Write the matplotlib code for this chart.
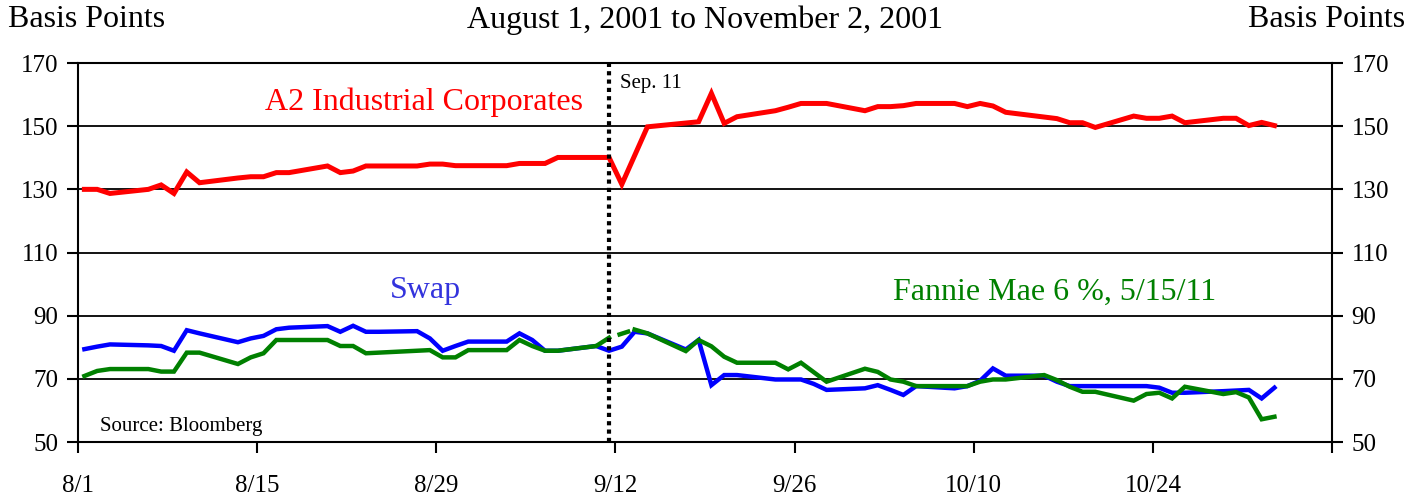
import matplotlib as mpl

mpl.rcParams['font.family'] = 'Liberation Serif'
mpl.rcParams['axes.linewidth'] = 1.5

import matplotlib.pyplot as plt
import numpy as np
import pandas as pd

# business days, 8/1/2001 - 11/2/2001 (holidays kept as carried values)
days = pd.bdate_range('2001-08-01', '2001-11-02')

# A2 Industrial Corporates (bp)
corp = [130, 130, 128.7, 130, 131.4, 128.7, 135.5, 132.1, 133.6, 134, 134, 135.3, 135.3,
        137.4, 135.3, 135.8, 137.4, 137.4, 137.4, 138, 138, 137.5, 137.5,
        137.5, 138.2, 138.2, 138.2, 140.1, 140.1, 140.1, 131.6, 140.7, 149.8, 151.0, 151.4,
        160.4, 150.9, 153, 154.9, 156, 157.2, 157.2, 157.2,
        154.9, 156.2, 156.2, 156.5, 157.2, 157.2, 156.2, 157.2, 156.4, 154.4, 152.9, 152.4,
        151.1, 151.1, 149.6, 153.2, 152.5, 152.5, 153.2, 151.1, 152.5, 152.5, 150.2,
        151.2, 150.2]

# Swap spread (bp)
swap = [79.4, 80.2, 80.9, 80.6, 80.4, 78.9, 85.4, 84.4, 81.6, 82.8, 83.6, 85.7, 86.2,
        86.7, 84.9, 86.8, 84.9, 84.9, 85.1, 82.8, 78.9, 80.4, 81.8,
        81.8, 84.4, 82.3, 78.9, 78.9, 80.4, 78.9, 80.2, 84.9, 84.4, 79.3, 82.3,
        68, 71.2, 71.2, 69.8, 69.8, 69.8, 68.4, 66.5,
        67, 68, 66.5, 64.9, 67.7, 67, 67.7, 69.4, 73.3, 71, 71, 69.1,
        67.7, 67.7, 67.7, 67.7, 67.7, 67.2, 65.6, 65.6, 66.1, 66.3, 66.5,
        63.8, 67.2]

# Fannie Mae 6%, 5/15/11 (bp)
fannie = [70.9, 72.5, 73.1, 73.1, 72.3, 72.3, 78.3, 78.3, 74.7, 76.8, 78.1, 82.3, 82.3,
          82.3, 80.4, 80.4, 78.1, 78.3, 78.9, 79.1, 76.8, 76.8, 79.1,
          79.1, 82.3, 80.4, 78.9, 78.9, 80.4, 83.0, 84.3, 85.6, 84.4, 78.8, 82.3,
          80.3, 77, 75.1, 75.1, 73, 75.1, 72.1, 69.1,
          73.2, 72.2, 69.8, 69.1, 67.7, 67.7, 67.7, 69.1, 69.8, 69.8, 71.2, 69.6,
          67.5, 65.9, 65.9, 63.1, 65.2, 65.6, 63.8, 67.5, 65.2, 65.8, 64.1,
          57.2, 58]

xticks = pd.date_range('2001-08-01', '2001-11-07', freq='14D')
tick_labels = ['8/1', '8/15', '8/29', '9/12', '9/26', '10/10', '10/24', '']

# points plotted at mid-day
x = days + pd.Timedelta(hours=12)

fig = plt.figure(figsize=(14.1, 4.99), dpi=100)
ax = fig.add_axes([0.0553, 0.1142, 0.8894, 0.7595])

ax.plot(x, corp, color='#ff0000', lw=3.6, solid_joinstyle='miter', zorder=3)
ax.plot(x, swap, color='#0000ff', lw=3.2, solid_joinstyle='miter', zorder=3)

# Fannie Mae line is dashed across the closed market days
fan = np.array(fannie, dtype=float)
gap = (x > pd.Timestamp('2001-09-11 13:00')) & (x < pd.Timestamp('2001-09-13 11:00'))
fan_solid = fan.copy()
fan_solid[gap] = np.nan
ax.plot(x, fan_solid, color='#008000', lw=3.2, solid_joinstyle='miter', zorder=4)
sel = (x > pd.Timestamp('2001-09-11')) & (x < pd.Timestamp('2001-09-14'))
ax.plot(x[sel], fan[sel], color='#008000', lw=3.2, ls=(3, (3, 2)), zorder=4)

ax.axvline(pd.Timestamp('2001-09-11 12:00'), color='black', lw=3, ls=(0, (1, 1)), zorder=5)

ax.set_xlim(pd.Timestamp('2001-08-01'), pd.Timestamp('2001-11-07'))
ax.set_ylim(50, 170)
ax.set_yticks(range(50, 171, 20))
ax.set_xticks(xticks)
ax.set_xticklabels(tick_labels)
ax.yaxis.grid(True, color='black', lw=1.3)
ax.set_axisbelow(True)

ax.tick_params(axis='y', direction='out', length=8, width=1.5, labelsize=18, pad=6,
               left=True, right=True, labelleft=True, labelright=True)
ax.tick_params(axis='x', direction='out', length=8, width=1.5, labelsize=18, pad=16)

ax.text(0.149, 0.897, 'A2 Industrial Corporates', color='#ff0000', fontsize=23,
        transform=ax.transAxes, ha='left', va='center')
ax.text(0.249, 0.401, 'Swap', color='#3333dd', fontsize=23,
        transform=ax.transAxes, ha='left', va='center')
ax.text(0.650, 0.396, 'Fannie Mae 6 %, 5/15/11', color='#008000', fontsize=23,
        transform=ax.transAxes, ha='left', va='center')
ax.text(0.432, 0.945, 'Sep. 11', color='black', fontsize=15,
        transform=ax.transAxes, ha='left', va='center')
ax.text(0.0175, 0.040, 'Source: Bloomberg', color='black', fontsize=15,
        transform=ax.transAxes, ha='left', va='center')

fig.text(0.0057, 0.96, 'Basis Points', fontsize=23, ha='left', va='center')
fig.text(0.5, 0.96, 'August 1, 2001 to November 2, 2001', fontsize=23, ha='center', va='center')
fig.text(0.9965, 0.96, 'Basis Points', fontsize=23, ha='right', va='center')

plt.savefig('out.png', dpi=100)
